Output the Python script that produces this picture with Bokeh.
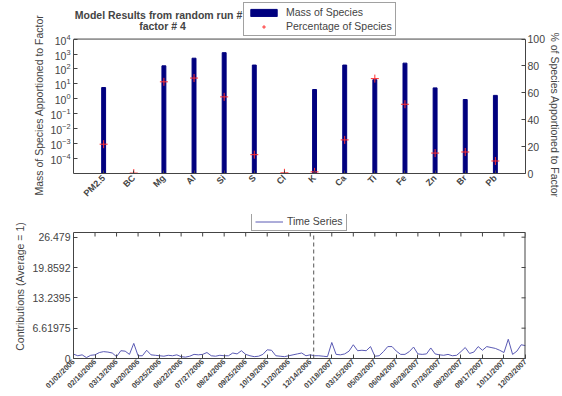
import math
from bokeh.plotting import figure
from bokeh.models import (Range1d, LinearAxis, LinearScale, FixedTicker, Legend, LegendItem,
                          Label, Span, Title)
from bokeh.layouts import column
from bokeh.embed import file_html
from bokeh.resources import INLINE

# ---------------- data ----------------
species = ["PM2.5", "BC", "Mg", "Al", "Si", "S", "Cl", "K", "Ca", "Ti", "Fe", "Zn", "Br", "Pb"]
mass = [5.7, 0, 162, 525, 1230, 182, 0, 4.2, 182, 19, 245, 5.4, 0.9, 1.7]
percent = [21.8, 0.3, 68.2, 71, 57, 14, 0.5, 1.2, 25, 70.6, 51.5, 15.2, 16, 9.3]
mass_ticks = [1e-4, 1e-3, 1e-2, 1e-1, 1e0, 1e1, 1e2, 1e3, 1e4]
mass_min, mass_max = 1e-5, 1e4
pct_ticks = [0, 20, 40, 60, 80, 100]
pct_max = 100

date_labels = ["01/02/2006", "02/16/2006", "03/13/2006", "04/20/2006", "05/25/2006",
               "06/22/2006", "07/27/2006", "08/24/2006", "09/25/2006", "10/19/2006",
               "11/20/2006", "12/14/2006", "01/18/2007", "03/15/2007", "05/03/2007",
               "06/04/2007", "06/28/2007", "07/26/2007", "08/20/2007", "09/17/2007",
               "10/11/2007", "12/03/2007"]
samples_per_tick = 5
contrib = [0.95, 0.6, 0.8, 0.2, 0.7,
           0.8, 1.3, 1.5, 1.4, 1.2,
           0.4, 1.7, 1.6, 0.9, 3.3,
           0.6, 0.6, 1.8, 0.8, 0.7,
           0.6, 0.5, 0.7, 0.6, 0.8,
           0.4, 0.3, 0.5, 0.9, 0.8,
           0.9, 1.3, 0.6, 0.5, 0.7,
           0.6, 0.6, 1.2, 1.0, 1.7,
           0.9, 0.6, 0.4, 0.5, 0.9,
           1.9, 1.8, 0.6, 0.5, 0.4,
           0.6, 0.8, 1.0, 1.2, 0.6,
           0.8, 0.6, 0.6, 0.5, 0.4,
           3.5, 0.9, 0.8, 1.0, 1.6,
           3.0, 1.7, 1.8, 1.7, 2.6,
           0.5, 0.6, 1.5, 2.6, 2.6,
           1.6, 0.9, 0.9, 1.5, 2.5,
           1.0, 0.9, 1.0, 2.3, 1.0,
           0.8, 0.7, 0.9, 0.6, 0.7,
           1.5, 2.4, 1.1, 1.4, 2.6,
           1.8, 2.6, 2.4, 2.2, 1.8,
           1.3, 4.2, 0.9, 1.6, 3.0, 2.8]
contrib_ticks = [0, 6.61975, 13.2395, 19.8592, 26.479]
contrib_tick_labels = ["0", "6.61975", "13.2395", "19.8592", "26.479"]
contrib_max = 27.5
year_break = 55.8   # sample index where 2006 ends

FONT = "Liberation Sans"
EDGE = "#444444"
W = 562

# ---------------- top chart ----------------
# the plotting frame reaches up to the top so that the title and legend (drawn above the
# axes box, as in the original) are not clipped; the axes box itself is 136 px tall.
BOX1, HEAD1 = 136, 37
positions = list(range(1, len(species) + 1))
bx = [x for x, m in zip(positions, mass) if m > 0]
bm = [m for m in mass if m > 0]
decades = math.log10(mass_max / mass_min)
y1_top = mass_max * 10 ** (decades * HEAD1 / BOX1)
pct_top = pct_max * (BOX1 + HEAD1) / BOX1

p1 = figure(width=W, height=204, title=None, x_range=Range1d(0, len(species) + 1),
            y_range=Range1d(mass_min, y1_top), y_axis_type="log",
            output_backend="svg", toolbar_location=None,
            min_border_left=73, min_border_right=34, min_border_top=2, min_border_bottom=29)
p1.extra_y_ranges = {"pct": Range1d(0, pct_top)}
p1.extra_y_scales = {"pct": LinearScale()}
p1.grid.visible = False
p1.outline_line_color = None
p1.add_layout(Span(location=mass_max, dimension="width", line_color=EDGE, line_width=1))

bars = p1.vbar(x=bx, top=bm, bottom=mass_min, width=0.13, fill_color="#00007f",
               line_color="#00007f")
pts = p1.scatter(x=positions, y=percent, marker="cross", size=8, line_color="#ff3030",
                 line_width=1, y_range_name="pct")

xa = p1.xaxis[0]
xa.ticker = FixedTicker(ticks=positions)
xa.major_label_overrides = {x: s for x, s in zip(positions, species)}
xa.major_label_orientation = 0.785
xa.major_label_text_font = FONT
xa.major_label_text_font_size = "9px"
xa.major_label_text_font_style = "bold"
xa.major_label_standoff = 3
xa.major_tick_in = 3
xa.major_tick_out = 0
xa.axis_line_color = EDGE
xa.major_tick_line_color = EDGE

ya = p1.yaxis[0]
ya.ticker = FixedTicker(ticks=mass_ticks)
ya.bounds = (mass_min, mass_max)
ya.major_tick_in = 4
ya.major_tick_out = 0
ya.major_label_standoff = 3

ra = LinearAxis(y_range_name="pct", ticker=FixedTicker(ticks=pct_ticks), bounds=(0, pct_max))
ra.major_tick_in = 4
ra.major_tick_out = 0
ra.major_label_standoff = 2
p1.add_layout(ra, "right")

for a in (ya, ra):
    a.major_label_text_font = FONT
    a.major_label_text_font_size = "10.5px"
    a.axis_line_color = EDGE
    a.major_tick_line_color = EDGE
    a.minor_tick_line_color = None

# axis titles, placed like the original (they run below the axes box)
p1.add_layout(Title(text="Mass of Species Apportioned to Factor", align="left", offset=-22,
                    standoff=6, text_font=FONT, text_font_size="10.5px",
                    text_font_style="normal"), "left")
p1.add_layout(Title(text="% of Species Apportioned to Factor", align="left", offset=30,
                    standoff=0, text_font=FONT, text_font_size="10.5px",
                    text_font_style="normal"), "right")

leg1 = Legend(items=[LegendItem(label="Mass of Species", renderers=[bars]),
                     LegendItem(label="Percentage of Species", renderers=[pts])],
              location=(170, 137), label_text_font=FONT, label_text_font_size="10.5px",
              glyph_width=33, glyph_height=9, label_height=11, spacing=2, padding=3,
              margin=0, label_standoff=6, border_line_color=EDGE)
p1.add_layout(leg1)

p1.add_layout(Label(x=85, y=159, x_units="screen", y_units="screen",
                    text="Model Results from random run #", text_align="center",
                    text_baseline="middle", text_font=FONT, text_font_size="10.5px",
                    text_font_style="bold"))
p1.add_layout(Label(x=89, y=148, x_units="screen", y_units="screen",
                    text="factor # 4", text_align="center",
                    text_baseline="middle", text_font=FONT, text_font_size="10.5px",
                    text_font_style="bold"))

# ---------------- bottom chart ----------------
BOX2, HEAD2 = 126, 18
idx = list(range(len(contrib)))
tick_pos = [i * samples_per_tick for i in range(len(date_labels))]
y2_top = contrib_max * (BOX2 + HEAD2) / BOX2
tick_len = 4 * contrib_max / BOX2

p2 = figure(width=W, height=192, title=None, x_range=Range1d(0, idx[-1]),
            y_range=Range1d(0, y2_top), output_backend="svg", toolbar_location=None,
            min_border_left=73, min_border_right=34, min_border_top=10, min_border_bottom=38)
p2.grid.visible = False
p2.outline_line_color = None

ts = p2.line(x=idx, y=contrib, line_color="#5a5ab4", line_width=1)

# axes box: top edge, right edge, top ticks and right ticks (inward, MATLAB style)
p2.add_layout(Span(location=contrib_max, dimension="width", line_color=EDGE, line_width=1))
p2.segment(x0=[idx[-1]], y0=[0], x1=[idx[-1]], y1=[contrib_max], line_color=EDGE,
           line_width=2)
p2.segment(x0=tick_pos, y0=[contrib_max] * len(tick_pos), x1=tick_pos,
           y1=[contrib_max - tick_len] * len(tick_pos), line_color=EDGE, line_width=1)
p2.scatter(x=[idx[-1]] * len(contrib_ticks), y=contrib_ticks, marker="dash", size=8,
           line_color=EDGE)
p2.segment(x0=[year_break], y0=[0], x1=[year_break], y1=[contrib_max], line_dash="4 3",
           line_color="#555555", line_width=1)

xb = p2.xaxis[0]
xb.ticker = FixedTicker(ticks=tick_pos)
xb.major_label_overrides = {x: s for x, s in zip(tick_pos, date_labels)}
xb.major_label_orientation = 0.785
xb.major_label_text_font = FONT
xb.major_label_text_font_size = "7.5px"
xb.major_label_text_font_style = "bold"
xb.major_label_standoff = 2

yb = p2.yaxis[0]
yb.ticker = FixedTicker(ticks=contrib_ticks)
yb.bounds = (0, contrib_max)
yb.major_label_overrides = {v: s for v, s in zip(contrib_ticks, contrib_tick_labels)}
yb.axis_label = "Contributions (Average = 1)"
yb.major_label_text_font = FONT
yb.major_label_text_font_size = "10.5px"
yb.axis_label_text_font = FONT
yb.axis_label_text_font_size = "10.5px"
yb.axis_label_text_font_style = "normal"
yb.axis_label_standoff = 4
yb.major_label_standoff = 3

for a in (xb, yb):
    a.major_tick_in = 4
    a.major_tick_out = 0
    a.minor_tick_line_color = None
    a.axis_line_color = EDGE
    a.major_tick_line_color = EDGE

leg2 = Legend(items=[LegendItem(label="Time Series", renderers=[ts])],
              location=(178, 127), label_text_font=FONT, label_text_font_size="10.5px",
              glyph_width=28, glyph_height=9, label_height=11, padding=3, margin=0,
              label_standoff=4, border_line_color=EDGE)
p2.add_layout(leg2)

layout = column(p1, p2)
open("out.html", "w").write(file_html(layout, INLINE))
